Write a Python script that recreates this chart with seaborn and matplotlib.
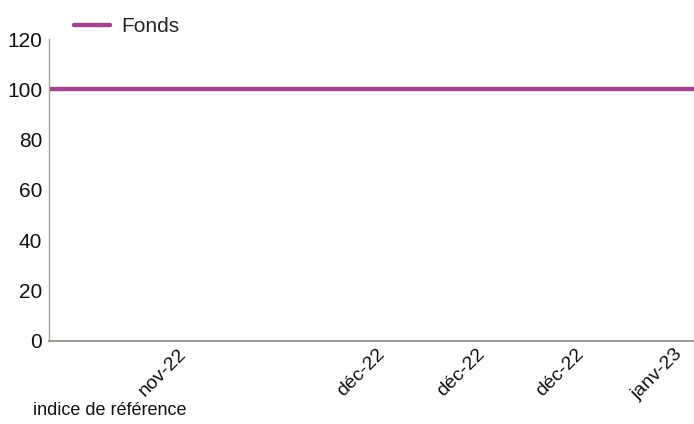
import pandas as pd
import numpy as np
import seaborn as sns
import matplotlib.pyplot as plt

# données
dates = ["2022-11-01", "2022-11-08", "2022-11-15", "2022-11-22", "2022-11-29",
         "2022-12-06", "2022-12-13", "2022-12-20", "2022-12-27", "2023-01-03",
         "2023-01-05"]
fonds = [100, 100, 100, 100, 100, 100, 100, 100, 100, 100, 100]
tick_dates = ["2022-11-14", "2022-12-04", "2022-12-14", "2022-12-24", "2023-01-03"]
tick_labels = ["nov-22", "déc-22", "déc-22", "déc-22", "janv-23"]

df = pd.DataFrame({"date": pd.to_datetime(dates), "Fonds": fonds})

sns.set_style("white")
plt.rcParams["font.family"] = ["Liberation Sans", "DejaVu Sans"]

fig, ax = plt.subplots(figsize=(6.94, 4.24), dpi=100)
fig.subplots_adjust(left=0.071, right=1.0, top=0.908, bottom=0.196)

sns.lineplot(data=df, x="date", y="Fonds", ax=ax, color="#a0488f",
             linewidth=3.2, label="Fonds")

ax.set_xlim(pd.Timestamp(dates[0]), pd.Timestamp(dates[-1]))
ax.set_ylim(0, 120)
ax.set_yticks(range(0, 121, 20))
ax.set_xticks(pd.to_datetime(tick_dates))
ax.set_xticklabels(tick_labels, rotation=45, ha="right", rotation_mode="anchor")
ax.tick_params(axis="both", length=0, colors="#111111")
ax.tick_params(axis="y", labelsize=15, pad=5)
ax.tick_params(axis="x", labelsize=14, pad=3)
ax.set_xlabel("")
ax.set_ylabel("")

for s in ["top", "right"]:
    ax.spines[s].set_visible(False)
ax.spines["left"].set_color("#b09a88")
ax.spines["bottom"].set_color("#8c8680")
ax.spines["left"].set_linewidth(1)
ax.spines["bottom"].set_linewidth(1.2)

leg = ax.legend(loc="center left", bbox_to_anchor=(0.025, 1.04), frameon=False,
                fontsize=15, handlelength=1.75, handletextpad=0.55, borderaxespad=0)

fig.text(0.047, 0.022, "indice de référence", fontsize=13, color="#111111")

plt.savefig("out.png")
